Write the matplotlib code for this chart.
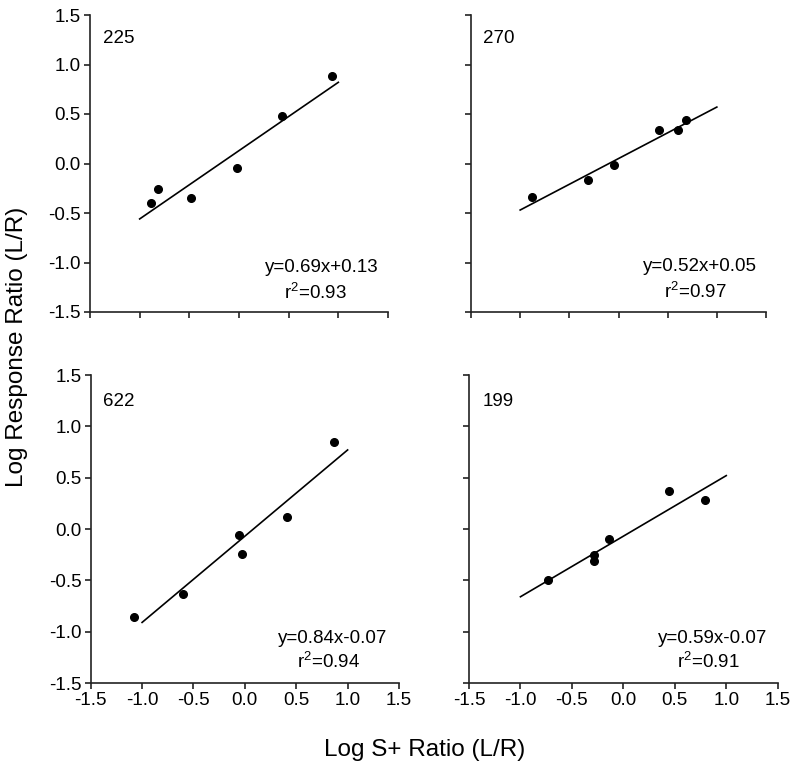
import matplotlib
matplotlib.use("Agg")
import matplotlib.pyplot as plt
import numpy as np

plt.rcParams['font.family'] = ['Liberation Sans', 'DejaVu Sans']
plt.rcParams['mathtext.fontset'] = 'custom'
plt.rcParams['mathtext.rm'] = 'Liberation Sans'
plt.rcParams['mathtext.default'] = 'regular'

# Data
subjects = ["225", "270", "622", "199"]
x_225 = [-0.89, -0.82, -0.48, -0.02, 0.43, 0.94]
y_225 = [-0.40, -0.26, -0.35, -0.05, 0.48, 0.88]
x_270 = [-0.88, -0.31, -0.05, 0.41, 0.60, 0.69]
y_270 = [-0.34, -0.17, -0.02, 0.34, 0.34, 0.44]
x_622 = [-1.08, -0.60, -0.06, -0.03, 0.41, 0.87]
y_622 = [-0.86, -0.63, -0.06, -0.24, 0.12, 0.85]
x_199 = [-0.73, -0.29, -0.29, -0.14, 0.44, 0.79]
y_199 = [-0.50, -0.25, -0.31, -0.10, 0.37, 0.28]
slopes = [0.69, 0.52, 0.84, 0.59]
intercepts = [0.13, 0.05, -0.07, -0.07]
r2 = [0.93, 0.97, 0.94, 0.91]
eq_labels = ["y=0.69x+0.13", "y=0.52x+0.05", "y=0.84x-0.07", "y=0.59x-0.07"]
fit_range = [-1.0, 1.0]
ticks = [-1.5, -1.0, -0.5, 0.0, 0.5, 1.0, 1.5]
tick_labels = ["-1.5", "-1.0", "-0.5", "0.0", "0.5", "1.0", "1.5"]

xs = [x_225, x_270, x_622, x_199]
ys = [y_225, y_270, y_622, y_199]

fig = plt.figure(figsize=(7.96, 7.69), dpi=100)
W, H = 796.0, 769.0
# axes boxes in pixels: left, right, top, bottom
boxes = [(90, 388, 15, 312), (471, 766, 15, 312),
         (90.7, 399, 375, 683), (469, 777.7, 375, 683)]
# text positions (axes fraction)
lab_pos = [(0.043, 0.906), (0.040, 0.905), (0.041, 0.900), (0.044, 0.900)]
eq_pos = [(0.779, 0.133), (0.777, 0.138), (0.784, 0.131), (0.789, 0.131)]
r2_pos = [(0.758, 0.044), (0.759, 0.046), (0.772, 0.048), (0.774, 0.048)]

fs = 13.5
for i in range(4):
    l, r, t, b = boxes[i]
    ax = fig.add_axes([l / W, 1 - b / H, (r - l) / W, (b - t) / H])
    ax.set_xlim(-1.5, 1.5)
    ax.set_ylim(-1.5, 1.5)
    for s in ['top', 'right']:
        ax.spines[s].set_visible(False)
    for s in ['left', 'bottom']:
        ax.spines[s].set_linewidth(1.2)
        ax.spines[s].set_color('#222222')
    ax.set_xticks(ticks)
    ax.set_yticks(ticks)
    ax.tick_params(direction='out', length=4.5, width=1.2, color='#222222',
                   labelsize=fs, pad=2)
    if i in (2, 3):
        ax.set_xticklabels(tick_labels)
    else:
        ax.set_xticklabels([])
    if i in (0, 2):
        ax.set_yticklabels(tick_labels)
    else:
        ax.set_yticklabels([])
    fx = np.array(fit_range)
    ax.plot(fx, slopes[i] * fx + intercepts[i], color='black', lw=1.2)
    ax.plot(xs[i], ys[i], 'o', color='black', ms=5.5, clip_on=False)
    ax.text(lab_pos[i][0], lab_pos[i][1], subjects[i], transform=ax.transAxes,
            fontsize=fs, ha='left', va='baseline')
    ax.text(eq_pos[i][0], eq_pos[i][1], eq_labels[i], transform=ax.transAxes,
            fontsize=fs, ha='center', va='baseline')
    ax.text(r2_pos[i][0], r2_pos[i][1], "r$^{2}$=%.2f" % r2[i],
            transform=ax.transAxes, fontsize=fs, ha='center', va='baseline')

fig.text(425 / W, 1 - 750 / H, "Log S+ Ratio (L/R)", fontsize=17.5,
         ha='center', va='center')
fig.text(17 / W, 1 - 347 / H, "Log Response Ratio (L/R)", fontsize=17.5,
         ha='center', va='center', rotation=90)

fig.savefig("out.png", dpi=100)
